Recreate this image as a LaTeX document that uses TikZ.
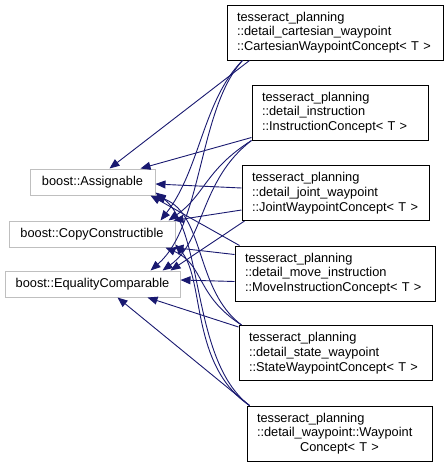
\documentclass[tikz,border=0pt]{standalone}
\usepackage{fontspec}
\setmainfont{Liberation Sans}
\usetikzlibrary{arrows.meta}
\definecolor{edgeblue}{RGB}{25,25,112}
\definecolor{basegray}{RGB}{191,191,191}

\begin{document}
\begin{tikzpicture}[x=1pt,y=-1pt,
    font=\fontsize{12.8}{14.7}\selectfont,
    base/.style={draw=basegray,line width=1pt,minimum height=26pt,inner sep=0pt},
    concept/.style={draw=black,line width=1pt,align=left,inner xsep=10pt,%
      inner ysep=0pt,minimum height=55pt},
    edge/.style={draw=edgeblue,line width=0.9pt,-{Triangle[length=10pt,width=8pt]}}]
  \useasboundingbox (0,0) rectangle (448,467);
  % base concepts
  \node[base,minimum width=125pt] (assign) at (92.5,182) {boost::Assignable};
  \node[base,minimum width=166pt] (copy) at (92,234) {boost::CopyConstructible};
  \node[base,minimum width=175pt] (equal) at (92.5,284) {boost::EqualityComparable};
  % derived concepts
  \node[concept,text width=196pt] (cart) at (335,32.5)
    {tesseract\_planning\\::detail\_cartesian\_waypoint\\::CartesianWaypointConcept< T >};
  \node[concept,text width=156pt] (instr) at (340,112.5)
    {tesseract\_planning\\::detail\_instruction\\::InstructionConcept< T >};
  \node[concept,text width=167pt] (joint) at (335.5,193)
    {tesseract\_planning\\::detail\_joint\_waypoint\\::JointWaypointConcept< T >};
  \node[concept,text width=180pt] (move) at (335,273.5)
    {tesseract\_planning\\::detail\_move\_instruction\\::MoveInstructionConcept< T >};
  \node[concept,text width=173pt] (state) at (335.5,353)
    {tesseract\_planning\\::detail\_state\_waypoint\\::StateWaypointConcept< T >};
  \node[concept,text width=165pt] (wayp) at (339.5,433.5)
    {tesseract\_planning\\::detail\_waypoint::Waypoint\\\makebox[\hsize]{Concept< T >}};
  % cartesian waypoint
  \draw[edge] ([xshift=23pt]cart.south west) -- ([xshift=80pt]assign.north west);
  \draw[edge] ([xshift=16pt]cart.south west) .. controls (203,100) and (200,170)
    .. ([xshift=-15pt]copy.north east);
  \draw[edge] ([xshift=16pt]cart.south west) .. controls (198,110) and (203,225)
    .. ([xshift=-30pt]equal.north east);
  % instruction
  \draw[edge] ([yshift=3pt]instr.south west) -- ([xshift=-15pt]assign.north east);
  \draw[edge] (instr.south west) .. controls (205,170) and (205,195)
    .. ([xshift=-7pt]copy.north east);
  \draw[edge] (instr.south west) .. controls (200,180) and (205,240)
    .. ([xshift=-18pt]equal.north east);
  % joint waypoint
  \draw[edge] ([yshift=5pt]joint.west) -- ([yshift=-2pt]assign.east);
  \draw[edge] ([yshift=-17pt]joint.west) -- ([xshift=-2pt]copy.north east);
  \draw[edge] ([xshift=3pt]joint.south west) -- ([xshift=-10pt]equal.north east);
  % move instruction
  \draw[edge] ([xshift=5pt]move.north west) -- ([xshift=-5pt]assign.south east);
  \draw[edge] ([yshift=-9pt]move.north west) -- ([xshift=-2pt]copy.south east);
  \draw[edge] ([yshift=-8pt]move.west) -- ([yshift=4pt]equal.east);
  % state waypoint
  \draw[edge] ([yshift=-2pt]state.north west) -- ([xshift=-33pt]equal.south east);
  \draw[edge] ([xshift=3pt]state.north west) .. controls (195,290) and (205,215)
    .. (assign.south east);
  \draw[edge] ([xshift=3pt]state.north west) .. controls (195,295) and (205,265)
    .. ([xshift=-10pt]copy.south east);
  % waypoint
  \draw[edge] ([xshift=3pt]wayp.north west) -- ([xshift=-63pt]equal.south east);
  \draw[edge] ([xshift=3pt]wayp.north west) .. controls (190,360) and (205,230)
    .. ([yshift=3pt]assign.south east);
  \draw[edge] ([xshift=3pt]wayp.north west) .. controls (190,365) and (205,280)
    .. ([yshift=3pt]copy.south east);
\end{tikzpicture}
\end{document}
